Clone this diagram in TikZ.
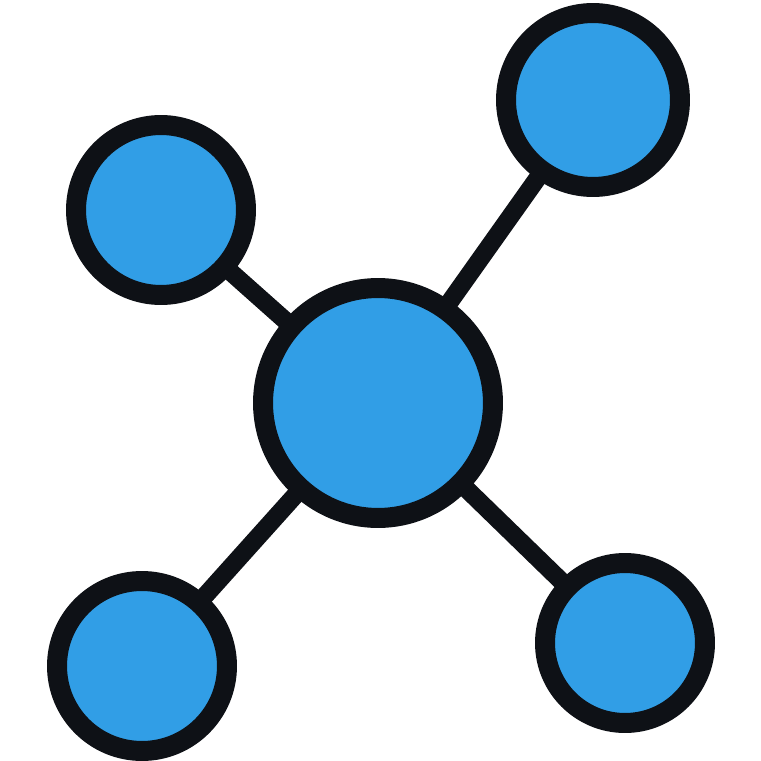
\documentclass[tikz,border=0pt]{standalone}
\usepackage{tikz}
\usetikzlibrary{positioning}

\definecolor{nodeblue}{RGB}{49,158,230}
\definecolor{ink}{RGB}{14,17,22}

\begin{document}
\begin{tikzpicture}[x=0.02cm, y=-0.02cm,
      hub/.style={circle, draw=ink, fill=nodeblue, line width=0.4cm, inner sep=0pt, outer sep=0pt, minimum size=4.6cm},
      leaf/.style={circle, draw=ink, fill=nodeblue, line width=0.4cm, inner sep=0pt, outer sep=0pt},
      link/.style={draw=ink, line width=0.36cm}]

      \useasboundingbox (0,0) rectangle (761,761);

      \node[hub] (center) at (378,403) {};
      \node[leaf, minimum size=3.4cm] (topleft) at (161,210) {};
      \node[leaf, minimum size=3.48cm] (topright) at (593,100) {};
      \node[leaf, minimum size=3.4cm] (botleft) at (142,666) {};
      \node[leaf, minimum size=3.2cm] (botright) at (625,643) {};

      % Links
      \draw[link] (center) -- (topleft);
      \draw[link] (center) -- (topright);
      \draw[link] (center) -- (botleft);
      \draw[link] (center) -- (botright);
    \end{tikzpicture}
\end{document}
